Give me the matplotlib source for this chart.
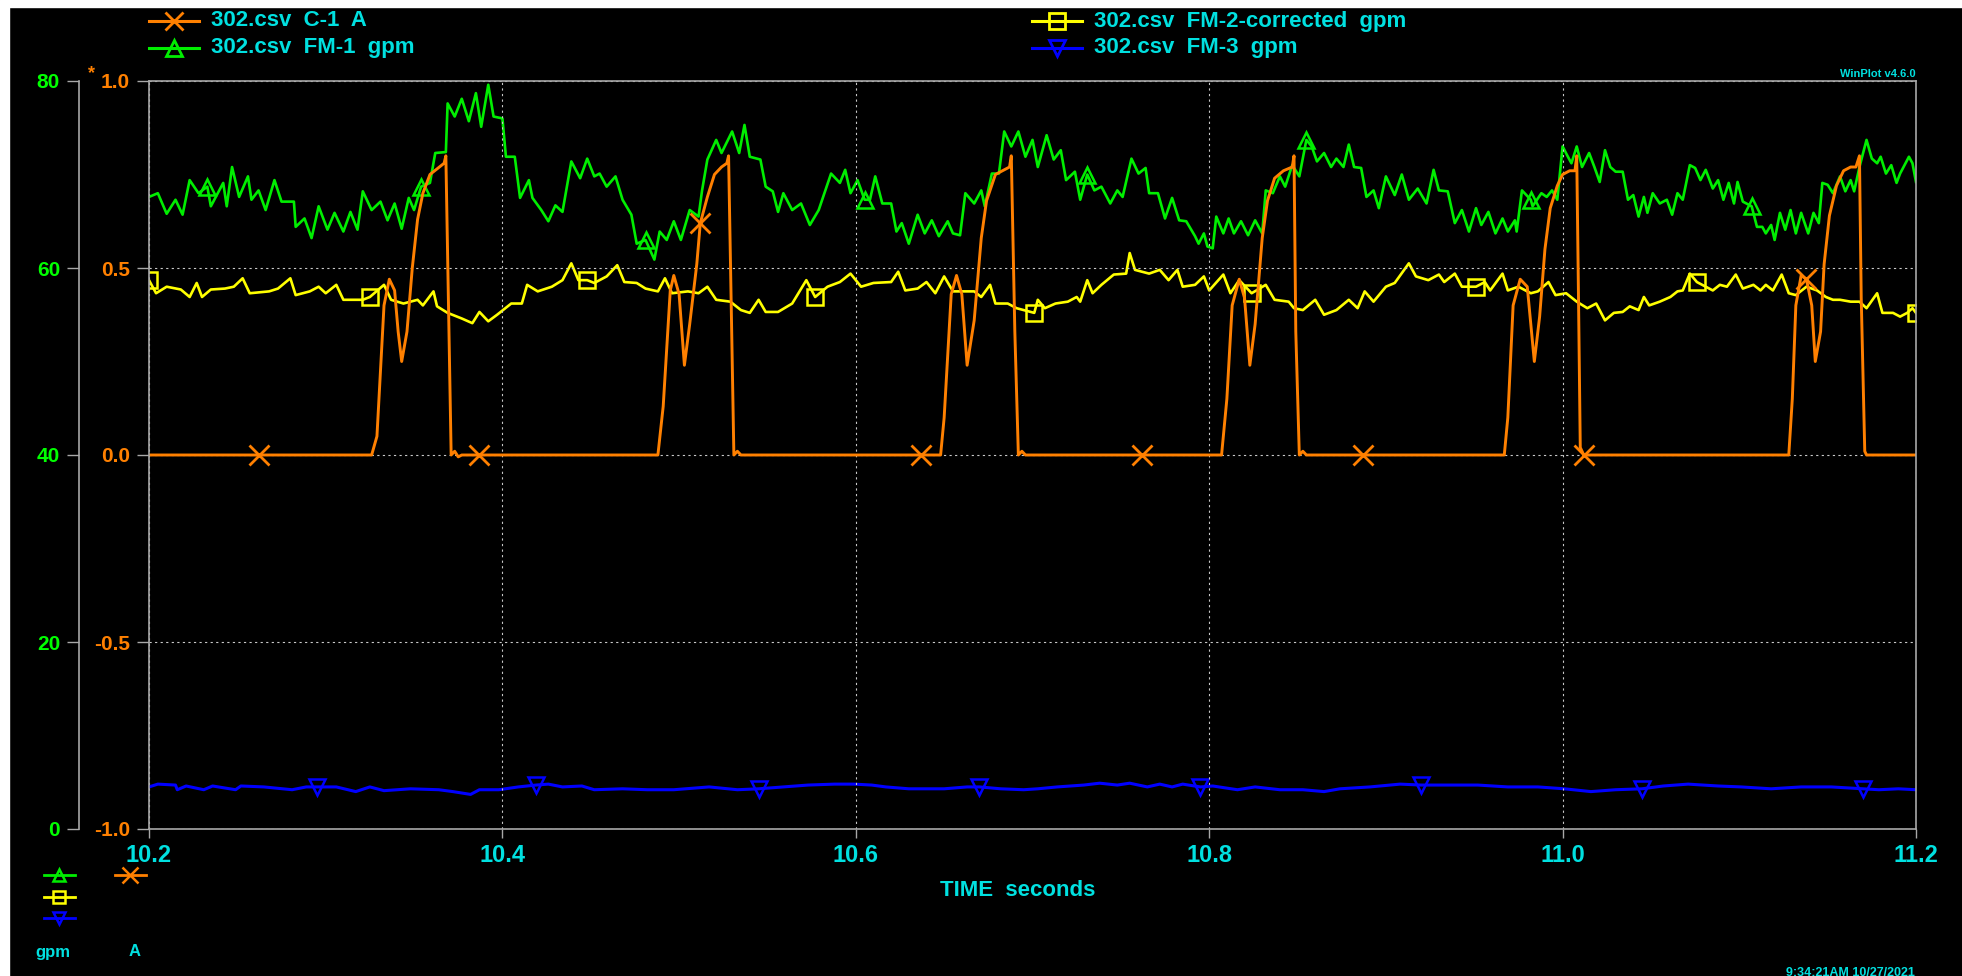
import numpy as np
import matplotlib
matplotlib.use('Agg')
import matplotlib.pyplot as plt
from matplotlib.lines import Line2D
from matplotlib.patches import Rectangle

plt.rcParams['font.family'] = ['Liberation Sans Narrow', 'Liberation Sans', 'DejaVu Sans']
plt.rcParams['font.weight'] = 'bold'
plt.rcParams['axes.unicode_minus'] = False

# ---- traces ----
# FM-1 gpm (green)
fm1_t = [10.200, 10.205, 10.210, 10.215, 10.219, 10.223, 10.228, 10.233, 10.235, 10.242,
         10.244, 10.247, 10.251, 10.256, 10.258, 10.262, 10.266, 10.271, 10.275, 10.282,
         10.283, 10.288, 10.292, 10.296, 10.301, 10.305, 10.310, 10.314, 10.318, 10.321,
         10.326, 10.331, 10.335, 10.339, 10.343, 10.347, 10.350, 10.354, 10.359, 10.362,
         10.368, 10.369, 10.373, 10.377, 10.381, 10.385, 10.388, 10.392, 10.395, 10.400,
         10.402, 10.407, 10.410, 10.415, 10.417, 10.422, 10.426, 10.430, 10.434, 10.439,
         10.444, 10.448, 10.452, 10.455, 10.459, 10.464, 10.468, 10.473, 10.476, 10.481,
         10.486, 10.489, 10.493, 10.497, 10.501, 10.506, 10.511, 10.513, 10.516, 10.521,
         10.524, 10.530, 10.534, 10.537, 10.540, 10.546, 10.549, 10.553, 10.556, 10.559,
         10.564, 10.569, 10.574, 10.579, 10.586, 10.591, 10.594, 10.597, 10.601, 10.605,
         10.608, 10.611, 10.615, 10.620, 10.623, 10.626, 10.630, 10.635, 10.639, 10.643,
         10.647, 10.652, 10.655, 10.659, 10.662, 10.667, 10.671, 10.673, 10.677, 10.681,
         10.684, 10.688, 10.692, 10.696, 10.700, 10.703, 10.708, 10.712, 10.716, 10.719,
         10.724, 10.727, 10.731, 10.735, 10.739, 10.744, 10.748, 10.751, 10.756, 10.760,
         10.764, 10.766, 10.771, 10.775, 10.779, 10.783, 10.787, 10.792, 10.794, 10.797,
         10.799, 10.802, 10.804, 10.808, 10.811, 10.814, 10.818, 10.822, 10.826, 10.830,
         10.832, 10.836, 10.840, 10.843, 10.847, 10.851, 10.855, 10.858, 10.861, 10.865,
         10.869, 10.872, 10.876, 10.879, 10.882, 10.886, 10.889, 10.893, 10.896, 10.900,
         10.905, 10.909, 10.913, 10.918, 10.923, 10.927, 10.930, 10.935, 10.939, 10.943,
         10.947, 10.951, 10.954, 10.958, 10.962, 10.966, 10.969, 10.973, 10.974, 10.977,
         10.982, 10.983, 10.988, 10.991, 10.994, 10.997, 11.000, 11.003, 11.005, 11.008,
         11.011, 11.015, 11.018, 11.021, 11.024, 11.027, 11.030, 11.034, 11.037, 11.040,
         11.043, 11.046, 11.048, 11.051, 11.055, 11.059, 11.062, 11.065, 11.068, 11.072,
         11.075, 11.078, 11.081, 11.085, 11.088, 11.091, 11.094, 11.097, 11.099, 11.102,
         11.107, 11.110, 11.113, 11.115, 11.118, 11.120, 11.123, 11.126, 11.129, 11.132,
         11.135, 11.139, 11.142, 11.145, 11.147, 11.150, 11.153, 11.157, 11.160, 11.163,
         11.165, 11.168, 11.172, 11.175, 11.178, 11.180, 11.183, 11.186, 11.189, 11.191,
         11.196, 11.198, 11.200]
fm1_gpm = [67.6, 68.0, 65.8, 67.3, 65.7, 69.4, 68.0, 68.7, 66.6, 69.1,
           66.6, 70.8, 67.6, 69.8, 67.3, 68.3, 66.2, 69.4, 67.1, 67.1,
           64.4, 65.3, 63.2, 66.6, 64.1, 65.9, 63.9, 66.0, 64.1, 68.2,
           66.2, 67.1, 65.1, 66.9, 64.2, 67.5, 66.2, 68.7, 69.1, 72.3,
           72.4, 77.6, 76.2, 78.1, 75.7, 78.7, 75.1, 79.6, 76.2, 76.0,
           71.9, 71.9, 67.5, 69.4, 67.5, 66.2, 65.0, 66.7, 66.0, 71.4,
           69.6, 71.7, 69.8, 70.1, 68.7, 69.8, 67.3, 65.7, 62.6, 63.0,
           60.9, 63.9, 63.0, 65.0, 63.0, 66.2, 65.5, 68.3, 71.6, 73.7,
           72.3, 74.6, 72.3, 75.3, 71.9, 71.6, 68.7, 68.2, 66.0, 68.0,
           66.2, 66.9, 64.6, 66.2, 70.1, 69.1, 70.5, 68.0, 69.4, 67.3,
           67.3, 69.8, 66.9, 66.9, 63.9, 64.8, 62.6, 65.7, 63.7, 65.1,
           63.4, 65.0, 63.7, 63.5, 68.0, 66.9, 68.3, 66.6, 70.1, 70.1,
           74.6, 73.0, 74.6, 71.9, 73.7, 70.8, 74.2, 71.6, 72.6, 69.4,
           70.3, 67.3, 70.0, 68.3, 68.7, 66.9, 68.3, 67.6, 71.7, 70.1,
           70.7, 68.0, 68.0, 65.3, 67.5, 65.1, 65.0, 63.4, 62.6, 63.7,
           62.3, 62.1, 65.5, 63.7, 65.3, 63.7, 65.0, 63.5, 65.1, 63.7,
           68.3, 68.0, 69.8, 68.7, 71.0, 69.8, 73.7, 73.0, 71.4, 72.3,
           70.8, 71.7, 70.8, 73.2, 70.8, 70.7, 67.6, 68.3, 66.4, 69.8,
           67.8, 70.0, 67.3, 68.5, 66.9, 70.5, 68.3, 68.2, 64.8, 66.2,
           63.9, 66.4, 64.6, 66.0, 63.7, 65.3, 63.9, 65.1, 63.9, 68.3,
           67.3, 66.6, 68.0, 67.6, 68.3, 67.3, 73.0, 71.9, 71.2, 73.0,
           70.8, 72.3, 70.8, 69.2, 72.6, 70.8, 70.3, 70.3, 67.3, 67.8,
           65.5, 67.6, 65.9, 68.0, 66.9, 67.3, 65.7, 68.0, 67.3, 71.0,
           70.7, 69.4, 70.5, 68.5, 69.4, 67.3, 69.1, 66.9, 69.2, 67.1,
           66.6, 64.4, 64.4, 63.7, 64.6, 63.0, 65.9, 64.1, 66.2, 63.7,
           65.9, 63.7, 65.9, 64.8, 69.1, 68.9, 68.0, 69.8, 68.2, 69.4,
           68.2, 70.8, 73.7, 71.7, 71.2, 71.9, 70.1, 71.0, 69.1, 70.1,
           71.9, 71.2, 69.2]

# FM-2-corrected gpm (yellow)
fm2_t = [10.200, 10.204, 10.210, 10.218, 10.223, 10.227, 10.230, 10.235, 10.243, 10.248,
         10.253, 10.257, 10.268, 10.273, 10.280, 10.283, 10.291, 10.296, 10.300, 10.306,
         10.310, 10.321, 10.325, 10.333, 10.337, 10.344, 10.352, 10.355, 10.361, 10.363,
         10.369, 10.377, 10.383, 10.387, 10.392, 10.397, 10.405, 10.411, 10.414, 10.420,
         10.428, 10.434, 10.439, 10.443, 10.448, 10.452, 10.459, 10.465, 10.469, 10.476,
         10.481, 10.488, 10.492, 10.496, 10.505, 10.511, 10.516, 10.521, 10.529, 10.535,
         10.540, 10.545, 10.549, 10.556, 10.564, 10.572, 10.577, 10.584, 10.591, 10.597,
         10.603, 10.610, 10.620, 10.624, 10.628, 10.635, 10.640, 10.645, 10.650, 10.655,
         10.661, 10.667, 10.671, 10.676, 10.679, 10.686, 10.691, 10.701, 10.703, 10.707,
         10.713, 10.720, 10.725, 10.727, 10.731, 10.734, 10.739, 10.746, 10.753, 10.755,
         10.758, 10.766, 10.772, 10.777, 10.782, 10.785, 10.792, 10.797, 10.800, 10.808,
         10.812, 10.817, 10.824, 10.832, 10.837, 10.845, 10.848, 10.853, 10.860, 10.865,
         10.872, 10.879, 10.884, 10.888, 10.893, 10.900, 10.905, 10.913, 10.917, 10.924,
         10.930, 10.933, 10.939, 10.943, 10.951, 10.956, 10.959, 10.966, 10.969, 10.975,
         10.982, 10.986, 10.992, 10.996, 11.002, 11.008, 11.014, 11.019, 11.024, 11.029,
         11.034, 11.038, 11.043, 11.046, 11.049, 11.055, 11.061, 11.065, 11.068, 11.072,
         11.076, 11.081, 11.085, 11.089, 11.093, 11.098, 11.102, 11.108, 11.112, 11.115,
         11.119, 11.124, 11.128, 11.132, 11.138, 11.144, 11.149, 11.153, 11.157, 11.163,
         11.168, 11.172, 11.178, 11.181, 11.187, 11.191, 11.195, 11.198, 11.200]
fm2_gpm = [58.7, 57.3, 58.0, 57.7, 56.9, 58.4, 56.9, 57.7, 57.8, 58.0,
           58.9, 57.3, 57.5, 57.8, 58.9, 57.1, 57.5, 58.0, 57.3, 58.2,
           56.6, 56.6, 56.9, 58.2, 56.6, 56.2, 56.6, 56.0, 57.5, 55.9,
           55.2, 54.6, 54.1, 55.3, 54.3, 55.0, 56.2, 56.2, 58.2, 57.5,
           58.0, 58.7, 60.5, 58.7, 58.7, 58.4, 59.1, 60.3, 58.5, 58.4,
           57.8, 57.5, 58.9, 57.3, 57.5, 57.3, 58.0, 56.6, 56.4, 55.5,
           55.2, 56.6, 55.3, 55.3, 56.2, 58.7, 56.9, 58.0, 58.5, 59.4,
           58.0, 58.4, 58.5, 59.6, 57.6, 57.8, 58.5, 57.3, 59.1, 57.5,
           57.5, 57.5, 56.9, 58.2, 56.2, 56.2, 55.7, 55.2, 56.6, 55.7,
           56.2, 56.4, 56.9, 56.4, 58.7, 57.3, 58.2, 59.3, 59.4, 61.6,
           59.8, 59.4, 59.8, 58.7, 59.8, 58.0, 58.2, 59.1, 57.6, 59.3,
           57.3, 58.7, 57.3, 58.2, 56.6, 56.4, 55.7, 55.5, 56.6, 55.0,
           55.5, 56.6, 55.7, 57.5, 56.4, 58.0, 58.4, 60.5, 59.1, 58.7,
           59.3, 58.5, 59.4, 58.0, 58.0, 58.5, 57.6, 59.4, 57.6, 58.0,
           57.3, 57.5, 58.5, 57.1, 57.3, 56.4, 55.7, 56.2, 54.4, 55.2,
           55.3, 55.9, 55.5, 56.9, 56.0, 56.4, 56.9, 57.5, 57.6, 59.4,
           58.5, 58.0, 57.6, 58.2, 58.0, 59.3, 57.8, 58.2, 57.6, 58.2,
           57.6, 59.3, 57.3, 57.1, 58.0, 57.6, 56.9, 56.6, 56.6, 56.4,
           56.4, 55.7, 57.3, 55.2, 55.2, 54.8, 55.2, 55.7, 55.2]

# FM-3 gpm (blue)
fm3_t = [10.200, 10.205, 10.215, 10.216, 10.221, 10.231, 10.236, 10.249, 10.252, 10.265,
         10.281, 10.289, 10.295, 10.306, 10.317, 10.325, 10.333, 10.348, 10.364, 10.372,
         10.382, 10.387, 10.398, 10.409, 10.419, 10.426, 10.434, 10.445, 10.452, 10.468,
         10.482, 10.497, 10.517, 10.533, 10.545, 10.559, 10.573, 10.588, 10.599, 10.609,
         10.617, 10.630, 10.650, 10.663, 10.670, 10.682, 10.695, 10.703, 10.714, 10.729,
         10.738, 10.748, 10.755, 10.765, 10.772, 10.779, 10.785, 10.795, 10.802, 10.816,
         10.826, 10.840, 10.853, 10.865, 10.874, 10.891, 10.908, 10.920, 10.935, 10.952,
         10.969, 10.986, 11.001, 11.016, 11.030, 11.045, 11.057, 11.071, 11.088, 11.101,
         11.118, 11.135, 11.152, 11.170, 11.179, 11.190, 11.200]
fm3_gpm = [4.5, 4.8, 4.7, 4.2, 4.6, 4.2, 4.6, 4.2, 4.6, 4.5,
           4.2, 4.5, 4.5, 4.5, 4.0, 4.5, 4.1, 4.3, 4.2, 4.0,
           3.7, 4.2, 4.2, 4.5, 4.7, 4.8, 4.5, 4.6, 4.2, 4.3,
           4.2, 4.2, 4.5, 4.2, 4.3, 4.5, 4.7, 4.8, 4.8, 4.7,
           4.5, 4.3, 4.3, 4.5, 4.5, 4.3, 4.2, 4.3, 4.5, 4.7,
           4.9, 4.7, 4.9, 4.5, 4.8, 4.5, 4.8, 4.5, 4.6, 4.2,
           4.5, 4.2, 4.2, 4.0, 4.3, 4.5, 4.8, 4.7, 4.7, 4.7,
           4.5, 4.5, 4.3, 4.0, 4.2, 4.3, 4.6, 4.8, 4.6, 4.5,
           4.3, 4.5, 4.5, 4.3, 4.2, 4.3, 4.2]

# C-1 A (orange)
c1_t = [10.200, 10.262, 10.326, 10.329, 10.333, 10.336, 10.339, 10.341, 10.343, 10.346,
        10.349, 10.352, 10.355, 10.359, 10.363, 10.367, 10.368, 10.3695, 10.371, 10.373,
        10.375, 10.377, 10.387, 10.488, 10.491, 10.495, 10.497, 10.500, 10.503, 10.506,
        10.510, 10.512, 10.516, 10.520, 10.524, 10.527, 10.528, 10.5295, 10.531, 10.533,
        10.535, 10.637, 10.648, 10.650, 10.654, 10.657, 10.660, 10.663, 10.667, 10.671,
        10.674, 10.679, 10.683, 10.687, 10.688, 10.690, 10.692, 10.694, 10.696, 10.762,
        10.807, 10.810, 10.813, 10.817, 10.820, 10.823, 10.826, 10.830, 10.833, 10.837,
        10.842, 10.847, 10.848, 10.849, 10.851, 10.853, 10.855, 10.887, 10.967, 10.969,
        10.972, 10.976, 10.980, 10.982, 10.984, 10.987, 10.990, 10.993, 10.997, 11.000,
        11.004, 11.007, 11.008, 11.009, 11.010, 11.012, 11.128, 11.130, 11.132, 11.135,
        11.138, 11.141, 11.143, 11.146, 11.148, 11.151, 11.155, 11.159, 11.163, 11.166,
        11.168, 11.169, 11.171, 11.172, 11.200]
c1_amp = [0.0, 0.0, 0.0, 0.05, 0.40, 0.47, 0.44, 0.33, 0.25, 0.33,
          0.50, 0.63, 0.70, 0.75, 0.765, 0.78, 0.80, 0.40, 0.0, 0.01,
          -0.005, 0.0, 0.0, 0.0, 0.13, 0.44, 0.48, 0.43, 0.24, 0.35,
          0.51, 0.62, 0.69, 0.75, 0.77, 0.78, 0.80, 0.40, 0.0, 0.01,
          0.0, 0.0, 0.0, 0.10, 0.43, 0.48, 0.43, 0.24, 0.36, 0.58,
          0.68, 0.75, 0.76, 0.77, 0.80, 0.33, 0.0, 0.01, 0.0, 0.0,
          0.0, 0.15, 0.40, 0.47, 0.42, 0.24, 0.35, 0.58, 0.68, 0.74,
          0.76, 0.77, 0.80, 0.33, 0.0, 0.01, 0.0, 0.0, 0.0, 0.10,
          0.40, 0.47, 0.45, 0.35, 0.25, 0.37, 0.55, 0.66, 0.72, 0.75,
          0.76, 0.76, 0.80, 0.42, 0.02, 0.0, 0.0, 0.15, 0.40, 0.48,
          0.47, 0.40, 0.25, 0.33, 0.51, 0.64, 0.72, 0.76, 0.77, 0.77,
          0.80, 0.42, 0.01, 0.0, 0.0]

# symbol times (one symbol every 0.125 s, staggered per trace)
fm2_marks = [10.200, 10.325, 10.450, 10.575, 10.700, 10.825, 10.950, 11.075, 11.200]
fm1_marks = [10.231, 10.356, 10.481, 10.606, 10.731, 10.856, 10.981, 11.106]
c1_marks = [10.2625, 10.3875, 10.5125, 10.6375, 10.7625, 10.8875, 11.0125, 11.1375]
fm3_marks = [10.294, 10.419, 10.544, 10.669, 10.794, 10.919, 11.044, 11.169]

time_ticks = [10.2, 10.4, 10.6, 10.8, 11.0, 11.2]
amp_ticks = [-1.0, -0.5, 0.0, 0.5, 1.0]
gpm_ticks = [0, 20, 40, 60, 80]

legend_top = [('302.csv  C-1  A', '#ff8000', 'x'),
              ('302.csv  FM-1  gpm', '#00ee00', '^'),
              ('302.csv  FM-2-corrected  gpm', '#ffff00', 's'),
              ('302.csv  FM-3  gpm', '#0000ff', 'v')]

CYAN = '#00e0e0'
GRAY = '#a8a8a8'
W, H = 1962, 976


def fx(px):
    return px / W


def fy(py):
    return 1 - py / H


def mark_idx(t, marks):
    t = np.asarray(t)
    return [int(np.abs(t - m).argmin()) for m in marks]


fig = plt.figure(figsize=(W / 100, H / 100), dpi=100, facecolor='black')
fig.patches.append(Rectangle((0, fy(7)), 1, 7 / H, transform=fig.transFigure, color='white', zorder=-5))
fig.patches.append(Rectangle((0, 0), 9 / W, 1, transform=fig.transFigure, color='white', zorder=-5))

ax = fig.add_axes([fx(149), 1 - 829 / H, (1916 - 149) / W, (829 - 81) / H])
ax2 = ax.twinx()
ax.set_zorder(ax2.get_zorder() + 1)
ax.patch.set_visible(False)
ax2.patch.set_visible(False)

# gpm traces
ax2.plot(fm2_t, fm2_gpm, color='#ffff00', lw=1.9, marker='s', ms=11, mfc='none', mew=1.8,
         markevery=mark_idx(fm2_t, fm2_marks))
ax2.plot(fm1_t, fm1_gpm, color='#00ee00', lw=1.9, marker='^', ms=12, mfc='none', mew=1.8,
         markevery=mark_idx(fm1_t, fm1_marks))
ax2.plot(fm3_t, fm3_gpm, color='#0000ff', lw=2.2, marker='v', ms=12, mfc='none', mew=1.8,
         markevery=mark_idx(fm3_t, fm3_marks))
# current trace
ax.plot(c1_t, c1_amp, color='#ff8000', lw=2.1, marker='x', ms=14, mew=2.0,
        markevery=mark_idx(c1_t, c1_marks))

ax.set_xlim(10.2, 11.2)
ax.set_ylim(-1, 1)
ax2.set_ylim(0, 80)

ax.set_xticks(time_ticks)
ax.set_xticklabels(['%.1f' % v for v in time_ticks])
ax.set_yticks(amp_ticks)
ax.set_yticklabels(['%.1f' % v for v in amp_ticks])
ax.tick_params(axis='x', colors=GRAY, labelcolor=CYAN, length=6.5, width=1, pad=4, labelsize=17)
ax.tick_params(axis='y', colors=GRAY, labelcolor='#ff8000', length=8.6, width=1, pad=5, labelsize=15)
ax.tick_params(right=False)
ax.grid(True, color='#c8c8c8', linestyle=(0, (2, 3)), lw=0.8)
for s in ax.spines.values():
    s.set_color(GRAY)
    s.set_linewidth(1.2)

ax2.set_yticks(gpm_ticks)
ax2.yaxis.set_ticks_position('left')
ax2.spines['left'].set_visible(True)
ax2.spines['left'].set_position(('outward', 50.4))
ax2.spines['left'].set_color(GRAY)
ax2.spines['left'].set_linewidth(1.2)
for k in ['right', 'top', 'bottom']:
    ax2.spines[k].set_visible(False)
ax2.tick_params(axis='y', colors=GRAY, labelcolor='#00ff00', length=8.6, width=1, pad=5, labelsize=15)

fig.text(fx(92), fy(74), '*', color='#ff8000', fontsize=13, ha='center', va='center')
fig.text(fx(1018), fy(890), 'TIME  seconds', color=CYAN, fontsize=16, ha='center', va='center')
fig.text(fx(1916), fy(77), 'WinPlot v4.6.0', color=CYAN, fontsize=8, ha='right', va='baseline')
fig.text(fx(1915), fy(967), '9:34:21AM 10/27/2021', color=CYAN, fontsize=9, ha='right', va='top')

# top legend
slots = [(149, 21), (149, 48), (1032, 21), (1032, 48)]
for (label, col, mk), (x0, y0) in zip(legend_top, slots):
    fig.add_artist(Line2D([fx(x0), fx(x0 + 50)], [fy(y0)] * 2, transform=fig.transFigure,
                          color=col, lw=2.2))
    fig.add_artist(Line2D([fx(x0 + 25)], [fy(y0)], transform=fig.transFigure, color=col,
                          marker=mk, ms=13 if mk == 'x' else 11, mfc='none', mew=2.0))
    fig.text(fx(x0 + 62), fy(y0), label, color=CYAN, fontsize=16, ha='left', va='center')

# units key at the bottom left
units_key = [(44, 875, '#00ee00', '^'), (115, 875, '#ff8000', 'x'),
             (44, 897, '#ffff00', 's'), (44, 918, '#0000ff', 'v')]
for x0, y0, col, mk in units_key:
    fig.add_artist(Line2D([fx(x0), fx(x0 + 31)], [fy(y0)] * 2, transform=fig.transFigure,
                          color=col, lw=2.0))
    fig.add_artist(Line2D([fx(x0 + 15)], [fy(y0)], transform=fig.transFigure, color=col,
                          marker=mk, ms=12 if mk == 'x' else 9, mfc='none', mew=1.8))
fig.text(fx(53), fy(952), 'gpm', color=CYAN, fontsize=12, ha='center', va='center')
fig.text(fx(135), fy(952), 'A', color=CYAN, fontsize=12, ha='center', va='center')

fig.savefig('out.png', dpi=100, facecolor='black')
